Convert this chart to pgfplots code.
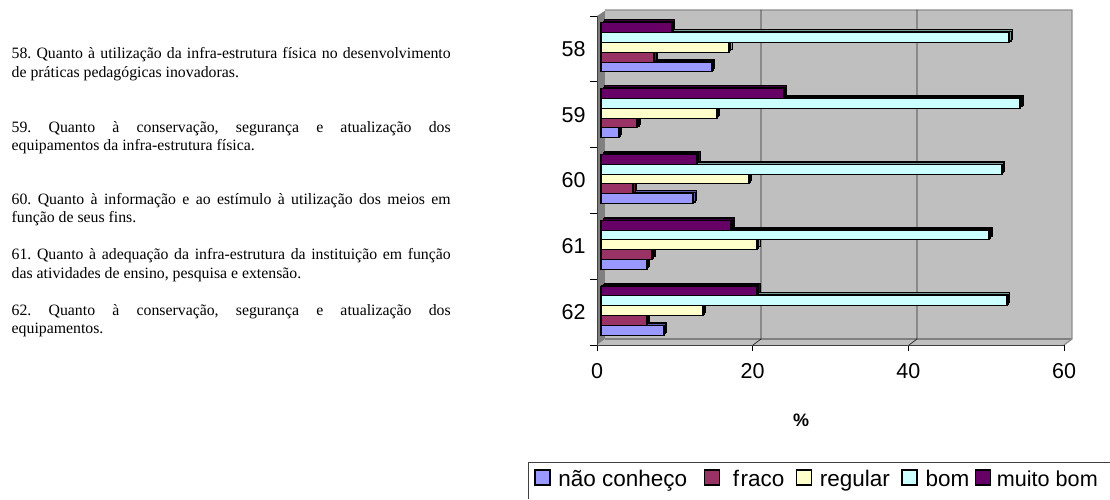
\documentclass[border=0pt]{standalone}
\usepackage{pgfplots}
\usepackage{pgfplotstable}
\pgfplotsset{compat=1.18}
\usepackage{fontspec}
\setmainfont{Liberation Sans}
\newfontfamily\serifq{Liberation Serif}
\definecolor{cA}{HTML}{9999FF}\definecolor{dA}{HTML}{5C5CA8}
\definecolor{cB}{HTML}{993366}\definecolor{dB}{HTML}{5C1F3D}
\definecolor{cC}{HTML}{FFFFCC}\definecolor{dC}{HTML}{99997A}
\definecolor{cD}{HTML}{CCFFFF}\definecolor{dD}{HTML}{7A9999}
\definecolor{cE}{HTML}{660066}\definecolor{dE}{HTML}{3D003D}
\pgfplotstableread{
y   nao  fraco regular bom  muito
4.5 14.2 6.8   16.4    52.4 9.0
3.5 2.2  4.6   14.8    53.8 23.4
2.5 11.8 4.1   18.9    51.4 12.3
1.5 5.8  6.5   20.0    49.8 16.7
0.5 8.0  5.8   13.0    52.1 20.0
}\datatbl
\frenchspacing
\newcommand\qtext[3]{\node[anchor=north west,inner sep=0pt,align=justify,text width=439pt,font=\serifq\fontsize{15.8}{18.3}\selectfont\frenchspacing] at (11.5,#1) {#2\linebreak #3};}
\newcommand\barseries[4]{%
  \addplot[forget plot,xbar,bar shift=#2,draw=black,line width=1.1pt,fill=#4,xshift=7.4pt,yshift=4.5pt] table[x=#1,y=y] {\datatbl};
  \addplot[forget plot,xbar,bar shift=#2,draw=black,line width=1.1pt,fill=#4,xshift=6.2pt,yshift=3pt] table[x=#1,y=y] {\datatbl};
  \addplot[forget plot,xbar,bar shift=#2,draw=black,line width=1.1pt,fill=#4,xshift=5pt,yshift=1.6pt] table[x=#1,y=y] {\datatbl};
  \addplot[xbar,bar shift=#2,draw=black,line width=1.1pt,fill=#3,xshift=4pt,yshift=1.5pt] table[x=#1,y=y] {\datatbl};
}
\begin{document}
\begin{tikzpicture}[x=1pt,y=1pt]
\useasboundingbox (0,0) rectangle (1110,499);
\path[fill=white] (0,0) rectangle (1110,499);
% question texts
\qtext{451.5}{58. Quanto à utilização da infra-estrutura física no desenvolvimento}{de práticas pedagógicas inovadoras.}
\qtext{377.5}{59. Quanto à conservação, segurança e atualização dos}{equipamentos da infra-estrutura física.}
\qtext{306}{60. Quanto à informação e ao estímulo à utilização dos meios em}{função de seus fins.}
\qtext{250.5}{61. Quanto à adequação da infra-estrutura da instituição em função}{das atividades de ensino, pesquisa e extensão.}
\qtext{195}{62. Quanto à conservação, segurança e atualização dos}{equipamentos.}
% 3D frame
\fill[fill=black!50] (597,154) -- (597,483) -- (606,489) -- (606,159) -- cycle;
\fill[fill=black!25] (597,154) -- (605,160) -- (1072,160) -- (1064,154) -- cycle;
\fill[fill=black!25] (605,160) rectangle (1072,489);
\draw[black!50,line width=1.6pt] (605,160) -- (1072,160);
\draw[black!45,line width=1.2pt] (605,489) -- (1072,489) -- (1072,160) -- (1064,154);
\foreach \t/\b in {761/753,917/909}{
  \draw[black!85,line width=0.7pt] (\t,489) -- (\t,160) -- (\b,154);
}
% legend frame (runs off the page at the right and bottom)
\draw[black!75,line width=0.8pt] (528,0) -- (528,37) -- (1110,37);
\begin{axis}[
  at={(597pt,154pt)},anchor=south west,
  width=467pt,height=329pt,scale only axis,
  xmin=0,xmax=60,ymin=0,ymax=5,
  clip=false,
  axis x line*=bottom,axis y line*=left,
  axis line style={black!75,line width=0.9pt,-},
  xbar,bar width=9.8pt,
  xtick={0,20,40,60},
  ytick={0.5,1.5,2.5,3.5,4.5},
  yticklabels={62,61,60,59,58},
  major y tick style={draw=none},
  minor ytick={0,1,2,3,4,5},
  tick align=outside,
  tick style={black,line width=0.8pt},
  major tick length=6pt,minor tick length=7pt,
  ticklabel style={font=\fontsize{21.5}{24}\selectfont},
  /pgf/number format/assume math mode=true,
  xticklabel style={yshift=-9pt},
  yticklabel style={xshift=-2pt},
  xlabel={\textbf{\%}},
  xlabel style={at={(axis description cs:0.437,-0.23)},anchor=center,font=\fontsize{18}{20}\selectfont},
  legend columns=5,
  legend cell align=left,
  legend style={draw=none,fill=none,
    at={(axis description cs:-0.1498,-0.3556)},anchor=north west,
    font=\fontsize{22.5}{26}\selectfont,
    inner xsep=7pt,inner ysep=6pt,
    /tikz/every odd column/.style={column sep=5.5pt},
    /tikz/every even column/.style={column sep=10.5pt}},
  legend image code/.code={\draw[#1,line width=1.6pt,xshift=0pt,yshift=0pt] (0pt,-7.5pt) rectangle (15pt,7.5pt);},
]
\barseries{nao}{-19.6pt}{cA}{dA}
\barseries{fraco}{-9.8pt}{cB}{dB}
\barseries{regular}{0pt}{cC}{dC}
\barseries{bom}{9.8pt}{cD}{dD}
\barseries{muito}{19.6pt}{cE}{dE}
\legend{não conheço\kern4pt,\kern5pt f\kern1.5pt raco\kern-1pt,regular\kern-1pt,bom\kern-7pt,{\kern-2pt\fontsize{21.6}{26}\selectfont muito bom}}
\end{axis}
\end{tikzpicture}
\end{document}
